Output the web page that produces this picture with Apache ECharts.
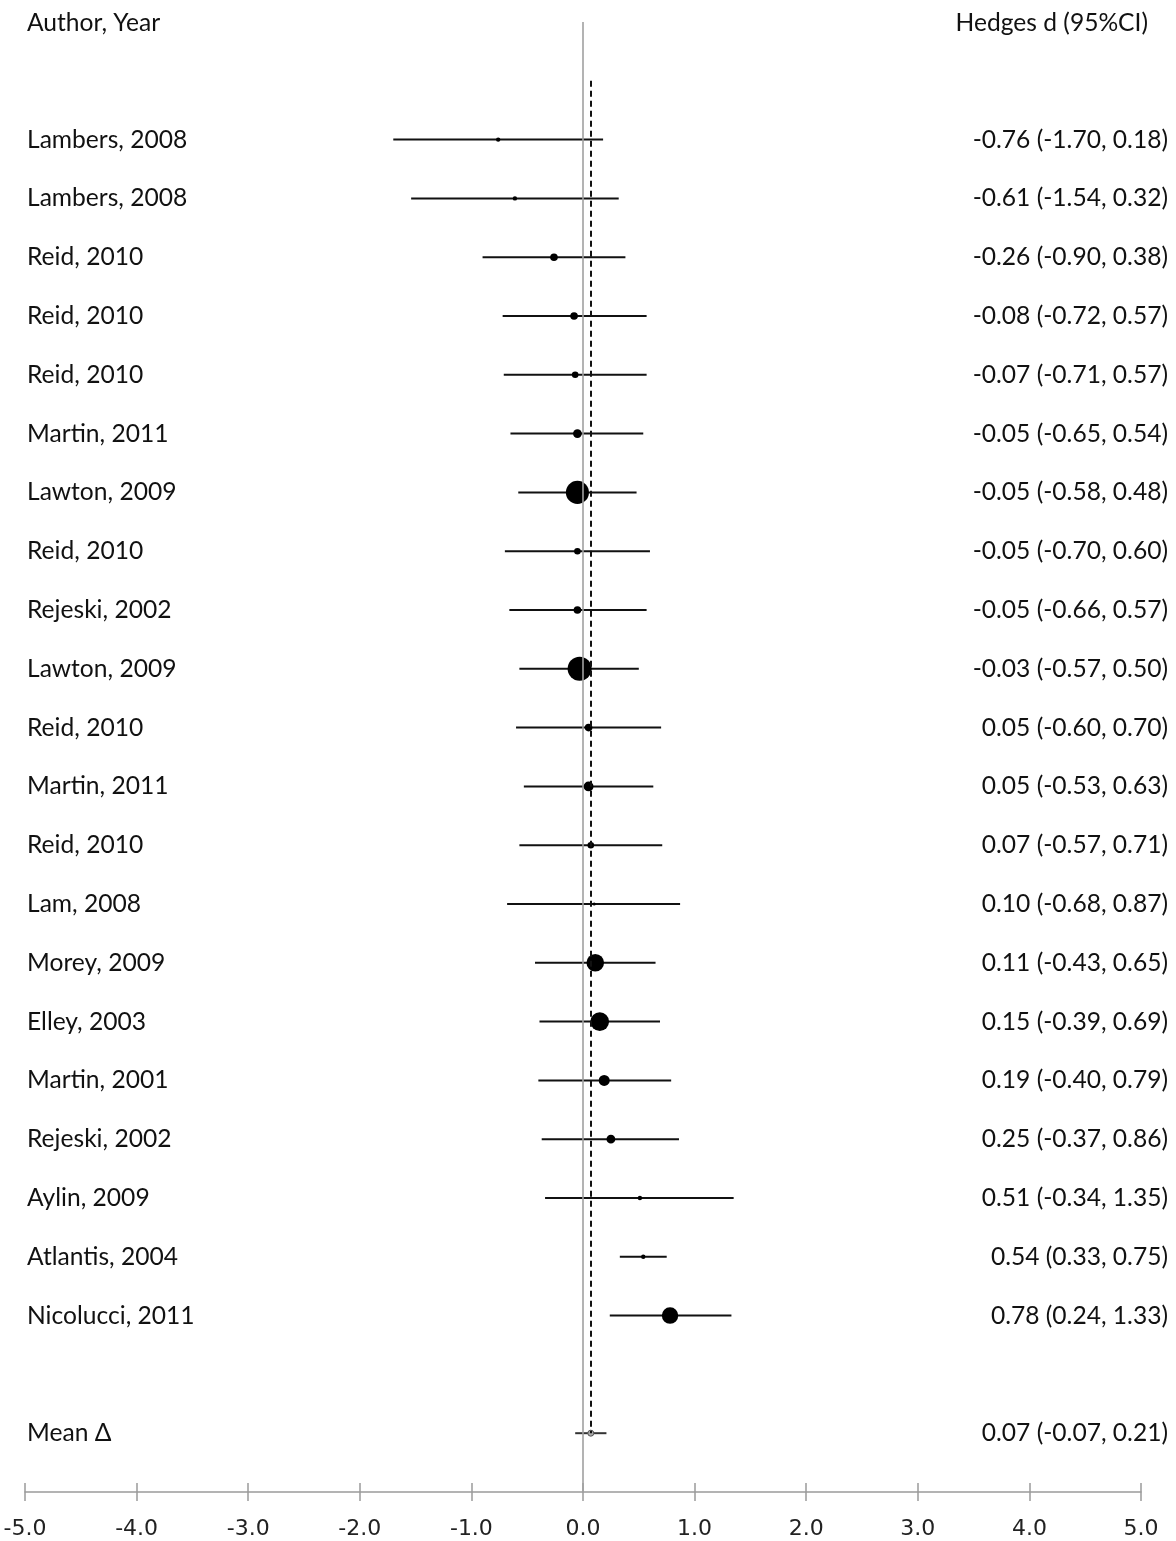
<!DOCTYPE html>
<html>
<head>
<meta charset="utf-8">
<script src="https://cdn.jsdelivr.net/npm/echarts@6/dist/echarts.min.js"></script>
<style>
  html, body { margin: 0; padding: 0; background: #fff; }
  #chart { width: 1176px; height: 1541px; }
</style>
</head>
<body>
<div id="chart"></div>
<script>
// Studies, in plotted order (top to bottom)
const authors = [
  'Lambers, 2008', 'Lambers, 2008', 'Reid, 2010', 'Reid, 2010', 'Reid, 2010',
  'Martin, 2011', 'Lawton, 2009', 'Reid, 2010', 'Rejeski, 2002', 'Lawton, 2009',
  'Reid, 2010', 'Martin, 2011', 'Reid, 2010', 'Lam, 2008', 'Morey, 2009',
  'Elley, 2003', 'Martin, 2001', 'Rejeski, 2002', 'Aylin, 2009', 'Atlantis, 2004',
  'Nicolucci, 2011'
];
// Hedges d and 95% confidence limits
const estimates = [-0.76, -0.61, -0.26, -0.08, -0.07, -0.05, -0.05, -0.05, -0.05, -0.03,
  0.05, 0.05, 0.07, 0.10, 0.11, 0.15, 0.19, 0.25, 0.51, 0.54, 0.78];
const lower = [-1.70, -1.54, -0.90, -0.72, -0.71, -0.65, -0.58, -0.70, -0.66, -0.57,
  -0.60, -0.53, -0.57, -0.68, -0.43, -0.39, -0.40, -0.37, -0.34, 0.33, 0.24];
const upper = [0.18, 0.32, 0.38, 0.57, 0.57, 0.54, 0.48, 0.60, 0.57, 0.50,
  0.70, 0.63, 0.71, 0.87, 0.65, 0.69, 0.79, 0.86, 1.35, 0.75, 1.33];
// Relative study weights (marker area)
const weights = [4, 4, 12, 12, 9, 16, 110, 9, 12, 120,
  12, 20, 9, 2, 64, 72, 25, 16, 4, 4, 56];

// Pooled estimate
const pooledLabel = 'Mean Δ';
const pooled = [0.07, -0.07, 0.21];

// Axis ticks
const xTicks = [-5, -4, -3, -2, -1, 0, 1, 2, 3, 4, 5];

const textFont = '24.6px Lato, "Open Sans", sans-serif';
const pooledRow = authors.length + 1;

function fmt(v) { return v.toFixed(2); }
function ciText(e, lo, hi) { return fmt(e) + ' (' + fmt(lo) + ', ' + fmt(hi) + ')'; }
// marker radius grows with the square root of the study weight
function markerRadius(w) { return 1.1 * Math.sqrt(w); }

const rows = authors.map((a, i) => [estimates[i], i, lower[i], upper[i], weights[i]]);

const chart = echarts.init(document.getElementById('chart'), null, { renderer: 'canvas' });

function rowTexts(api, row, left, right) {
  const leftX = api.coord([xTicks[0], row])[0];
  const rightX = api.coord([xTicks[xTicks.length - 1], row])[0];
  const y = api.coord([0, row])[1];
  return [
    { type: 'text', x: leftX + 2, y: y,
      style: { text: left, font: textFont, fill: '#111',
        textAlign: 'left', textVerticalAlign: 'middle' } },
    { type: 'text', x: rightX + 27, y: y,
      style: { text: right, font: textFont, fill: '#111',
        textAlign: 'right', textVerticalAlign: 'middle' } }
  ];
}

function renderRow(params, api) {
  const est = api.value(0), row = api.value(1), lo = api.value(2), hi = api.value(3), w = api.value(4);
  const p = api.coord([est, row]);
  const pl = api.coord([lo, row]);
  const ph = api.coord([hi, row]);
  return {
    type: 'group',
    children: [
      { type: 'line', shape: { x1: pl[0], y1: p[1], x2: ph[0], y2: p[1] },
        style: { stroke: '#111', lineWidth: 2 } },
      { type: 'circle', shape: { cx: p[0], cy: p[1], r: markerRadius(w) },
        style: { fill: '#000' } }
    ].concat(rowTexts(api, row, authors[params.dataIndex], ciText(est, lo, hi)))
  };
}

function renderPooled(params, api) {
  const est = api.value(0), row = api.value(1), lo = api.value(2), hi = api.value(3);
  const p = api.coord([est, row]);
  const pl = api.coord([lo, row]);
  const ph = api.coord([hi, row]);
  return {
    type: 'group',
    children: [
      { type: 'line', shape: { x1: pl[0], y1: p[1], x2: ph[0], y2: p[1] },
        style: { stroke: '#333', lineWidth: 2 } },
      { type: 'circle', shape: { cx: p[0], cy: p[1], r: 3 },
        style: { fill: '#aaa', stroke: '#555', lineWidth: 1 } }
    ].concat(rowTexts(api, row, pooledLabel, ciText(est, lo, hi)))
  };
}

const axisCommon = {
  type: 'value',
  min: xTicks[0],
  max: xTicks[xTicks.length - 1],
  interval: 1,
  splitLine: { show: false }
};

chart.setOption({
  animation: false,
  backgroundColor: '#fff',
  grid: { left: 25, right: 35, top: 22, bottom: 49 },
  xAxis: [
    Object.assign({}, axisCommon, {
      position: 'bottom',
      axisLine: { show: true, onZero: false, lineStyle: { color: '#9a9a9a', width: 1.5 } },
      axisTick: { show: true, inside: false, length: 9, lineStyle: { color: '#9a9a9a', width: 1.5 } },
      axisLabel: { show: true, margin: 26, color: '#222', fontSize: 22,
        fontFamily: '"DejaVu Sans"', formatter: v => v.toFixed(1) }
    }),
    Object.assign({}, axisCommon, {
      position: 'bottom',
      axisLine: { show: false, onZero: false },
      axisTick: { show: true, inside: true, length: 9, lineStyle: { color: '#9a9a9a', width: 1.5 } },
      axisLabel: { show: false }
    })
  ],
  yAxis: { type: 'value', inverse: true, min: -2, max: pooledRow + 1, show: false },
  graphic: [
    { type: 'text', left: 27, top: 11,
      style: { text: 'Author, Year', font: textFont, fill: '#111' } },
    { type: 'text', right: 28, top: 11,
      style: { text: 'Hedges d (95%CI)', font: textFont, fill: '#111' } }
  ],
  series: [
    {
      // reference lines: no effect (solid gray) and pooled mean (dashed)
      type: 'line',
      data: [],
      markLine: {
        silent: true,
        symbol: 'none',
        label: { show: false },
        data: [
          [{ coord: [0, -2], lineStyle: { color: '#a0a0a0', width: 1.6, type: 'solid' } },
           { coord: [0, pooledRow + 1] }],
          [{ coord: [pooled[0], -1], lineStyle: { color: '#111', width: 2, type: [6, 4] } },
           { coord: [pooled[0], pooledRow] }]
        ]
      }
    },
    {
      type: 'custom',
      renderItem: renderRow,
      clip: false,
      encode: { x: 0, y: 1 },
      data: rows,
      z: 3
    },
    {
      type: 'custom',
      renderItem: renderPooled,
      clip: false,
      encode: { x: 0, y: 1 },
      data: [[pooled[0], pooledRow, pooled[1], pooled[2]]],
      z: 3
    }
  ]
});
</script>
</body>
</html>
